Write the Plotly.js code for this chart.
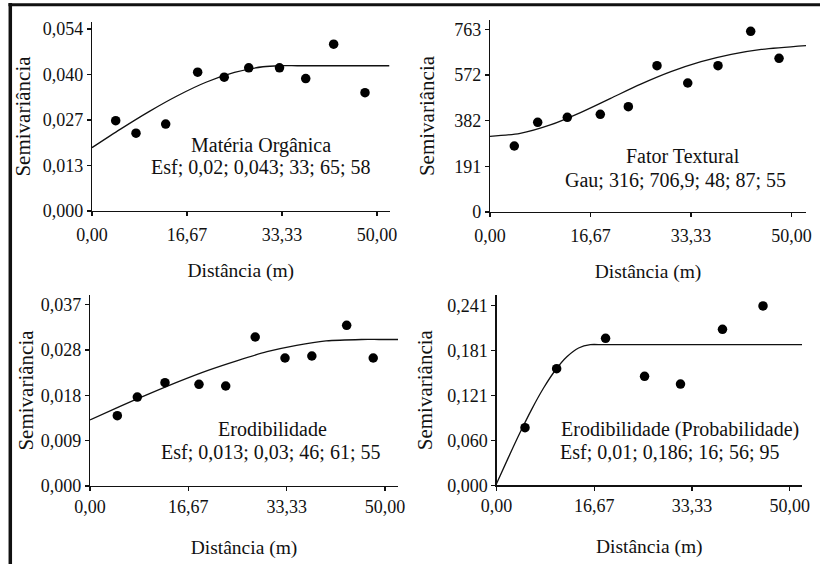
<!DOCTYPE html>
<html>
<head>
<meta charset="utf-8">
<script src="https://cdn.plot.ly/plotly-3.0.1.min.js"></script>
<style>html,body{margin:0;padding:0;background:#fff;}#chart{width:820px;height:564px;}</style>
</head>
<body>
<div id="chart"></div>
<script>
// ---- Data ----
var xTickVals = [0, 16.67, 33.33, 50];
var xTickText = ['0,00', '16,67', '33,33', '50,00'];

// Matéria Orgânica
var moX = [4.16, 7.72, 12.93, 18.54, 23.2, 27.5, 32.9, 37.5, 42.4, 47.9];
var moY = [0.0268, 0.0231, 0.0258, 0.0412, 0.0397, 0.0425, 0.0425, 0.0393, 0.0495, 0.0351];
var moLineX = [0, 5, 10, 15, 20, 25, 30, 33, 36, 40, 45, 52.2];
var moLineY = [0.0188, 0.0243, 0.0295, 0.0342, 0.0382, 0.0411, 0.0428, 0.0431, 0.0431, 0.0431, 0.0431, 0.0431];
var moTickVals = [0, 0.0135, 0.027, 0.0405, 0.054];
var moTickText = ['0,000', '0,013', '0,027', '0,040', '0,054'];

// Fator Textural
var ftX = [4.03, 7.91, 12.82, 18.29, 22.94, 27.69, 32.79, 37.81, 43.23, 47.93];
var ftY = [275.6, 374.6, 395.5, 408, 439.8, 611, 538.7, 611, 754.6, 641.9];
var ftLineX = [0, 5, 10, 15, 20, 25, 30, 35, 40, 45, 52.4];
var ftLineY = [316, 328.5, 363.7, 415.3, 474.7, 533.7, 585.8, 627.6, 658.2, 678.9, 695];
var ftTickVals = [0, 190.75, 381.5, 572.25, 763];
var ftTickText = ['0', '191', '382', '572', '763'];

// Erodibilidade
var erX = [4.63, 8.02, 12.71, 18.47, 23.0, 28.0, 33.05, 37.6, 43.5, 48.0];
var erY = [0.01435, 0.01816, 0.02108, 0.02075, 0.02041, 0.03041, 0.02612, 0.02653, 0.0328, 0.02612];
var erLineX = [0, 5, 10, 15, 20, 25, 30, 35, 40, 46, 49, 52.2];
var erLineY = [0.0135, 0.0162, 0.0188, 0.0213, 0.0236, 0.0256, 0.0274, 0.0287, 0.0296, 0.0299, 0.0299, 0.0299];
var erTickVals = [0, 0.00925, 0.0185, 0.02775, 0.037];
var erTickText = ['0,000', '0,009', '0,018', '0,028', '0,037'];

// Erodibilidade (Probabilidade)
var epX = [4.86, 10.26, 18.6, 25.25, 31.38, 38.54, 45.45];
var epY = [0.0771, 0.1561, 0.1968, 0.1459, 0.1356, 0.2089, 0.2401];
var epLineX = [0, 2, 4, 6, 8, 10, 12, 14, 16, 18, 21, 25, 30, 35, 40, 45, 52.1];
var epLineY = [0.002, 0.0367, 0.0703, 0.1017, 0.1299, 0.1537, 0.172, 0.1838, 0.1883, 0.1883, 0.1883, 0.1883, 0.1883, 0.1883, 0.1883, 0.1883, 0.1883];
var epTickVals = [0, 0.06025, 0.1205, 0.18075, 0.241];
var epTickText = ['0,000', '0,060', '0,121', '0,181', '0,241'];

var panelNames = ['Matéria Orgânica', 'Fator Textural', 'Erodibilidade', 'Erodibilidade (Probabilidade)'];
var panelParams = ['Esf; 0,02; 0,043; 33; 65; 58', 'Gau; 316; 706,9; 48; 87; 55', 'Esf; 0,013; 0,03; 46; 61; 55', 'Esf; 0,01; 0,186; 16; 56; 95'];
var xTitle = 'Distância (m)';
var yTitle = 'Semivariância';

// ---- Build ----
var FONT = "'Liberation Serif', 'Times New Roman', serif";
var TXT = '#111';
var W = 820, H = 564;
function px(a, b) { return [a / W, b / W]; }
function py(top, bottom) { return [1 - bottom / H, 1 - top / H]; }

var panels = [
  {px: moX, py: moY, lx: moLineX, ly: moLineY, tv: moTickVals, tt: moTickText, xr: [0, 52.2], yr: [0, 0.05608], xd: px(92, 389.5), yd: py(22, 211), ys: 6, xs: 19, tls: 3},
  {px: ftX, py: ftY, lx: ftLineX, ly: ftLineY, tv: ftTickVals, tt: ftTickText, xr: [0, 52.4], yr: [0, 801.8], xd: px(490, 806), yd: py(20, 212), ys: 13, xs: 19, tls: 3},
  {px: erX, py: erY, lx: erLineX, ly: erLineY, tv: erTickVals, tt: erTickText, xr: [0, 52.2], yr: [0, 0.03898], xd: px(90, 398), yd: py(295, 486), ys: 1, xs: 24, tls: 0},
  {px: epX, py: epY, lx: epLineX, ly: epLineY, tv: epTickVals, tt: epTickText, xr: [0, 52.1], yr: [0, 0.2548], xd: px(496.5, 802), yd: py(295, 485.3), ys: 8, xs: 24, tls: 0}
];
var annPos = [[261, 145, 260, 167], [683, 156, 675, 180], [272, 429, 270, 452], [680, 429, 669, 452]];

var traces = [];
var layout = {
  width: W, height: H,
  margin: {l: 0, r: 0, t: 0, b: 0},
  paper_bgcolor: '#fff', plot_bgcolor: 'rgba(0,0,0,0)',
  showlegend: false,
  font: {family: FONT, color: TXT, size: 18},
  annotations: [],
  shapes: [
    {type: 'line', xref: 'paper', yref: 'paper', x0: 8.5 / W, x1: 1, y0: 1 - 4.7 / H, y1: 1 - 4.7 / H, line: {color: '#111', width: 3}},
    {type: 'line', xref: 'paper', yref: 'paper', x0: 10.3 / W, x1: 10.3 / W, y0: 0, y1: 1 - 3 / H, line: {color: '#111', width: 3.5}}
  ]
};

panels.forEach(function (p, i) {
  var n = i + 1;
  var xa = n === 1 ? 'x' : 'x' + n, ya = n === 1 ? 'y' : 'y' + n;
  traces.push({x: p.lx, y: p.ly, xaxis: xa, yaxis: ya, mode: 'lines', line: {color: '#111', width: 1.3, shape: 'spline', smoothing: 0.8}, hoverinfo: 'skip'});
  traces.push({x: p.px, y: p.py, xaxis: xa, yaxis: ya, mode: 'markers', marker: {color: '#000', size: 9.5, symbol: 'circle'}});
  var common = {showgrid: false, zeroline: false, showline: true, linecolor: '#111', linewidth: 1.2,
    ticks: 'outside', ticklen: 4, tickwidth: 1.2, tickcolor: '#111', automargin: false,
    tickfont: {family: FONT, size: 18, color: TXT}, fixedrange: true};
  layout['xaxis' + (n === 1 ? '' : n)] = Object.assign({}, common, {
    domain: p.xd, range: p.xr, anchor: ya, tickmode: 'array', tickvals: xTickVals, ticktext: xTickText,
    ticklabelstandoff: p.tls,
    title: {text: xTitle, font: {family: FONT, size: 19.5, color: TXT}, standoff: p.xs}
  });
  layout['yaxis' + (n === 1 ? '' : n)] = Object.assign({}, common, {
    domain: p.yd, range: p.yr, anchor: xa, tickmode: 'array', tickvals: p.tv, ticktext: p.tt,
    title: {text: yTitle, font: {family: FONT, size: 21, color: TXT}, standoff: p.ys}
  });
  // inside half of the crossing ticks
  layout['xaxis' + (n + 4)] = {overlaying: xa, anchor: ya, range: p.xr, tickmode: 'array', tickvals: xTickVals,
    ticks: 'inside', ticklen: 4, tickwidth: 1.2, tickcolor: '#111', showticklabels: false, showline: false,
    showgrid: false, zeroline: false, fixedrange: true};
  layout['yaxis' + (n + 4)] = {overlaying: ya, anchor: xa, range: p.yr, tickmode: 'array', tickvals: p.tv,
    ticks: 'inside', ticklen: 4, tickwidth: 1.2, tickcolor: '#111', showticklabels: false, showline: false,
    showgrid: false, zeroline: false, fixedrange: true};
  var a = annPos[i];
  layout.annotations.push({xref: 'paper', yref: 'paper', x: a[0] / W, y: 1 - a[1] / H, text: panelNames[i], showarrow: false,
    xanchor: 'center', yanchor: 'middle', font: {family: FONT, size: 20, color: TXT}});
  layout.annotations.push({xref: 'paper', yref: 'paper', x: a[2] / W, y: 1 - a[3] / H, text: panelParams[i], showarrow: false,
    xanchor: 'center', yanchor: 'middle', font: {family: FONT, size: 20, color: TXT}});
});

Plotly.newPlot('chart', traces, layout, {staticPlot: true, displayModeBar: false});
</script>
</body>
</html>
